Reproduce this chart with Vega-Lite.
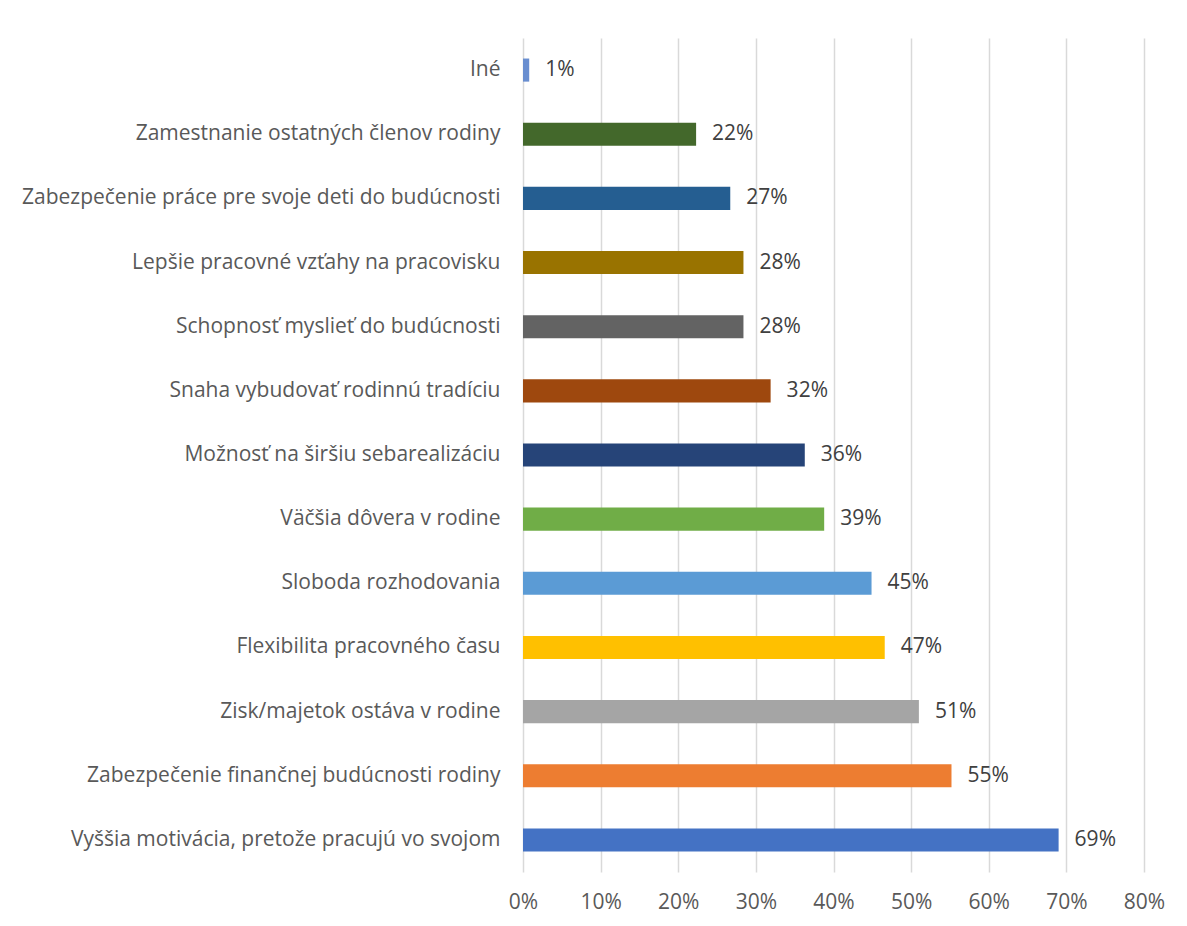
{
  "$schema": "https://vega.github.io/schema/vega-lite/v6.json",
  "width": 621,
  "height": 834,
  "autosize": {"type": "none"},
  "padding": {"left": 523, "top": 38, "right": 43, "bottom": 54},
  "background": "white",
  "config": {"view": {"stroke": null}, "font": "Open Sans"},
  "data": {
    "values": [
      {"cat": "Iné", "v": 0.008, "c": "#698ED0"},
      {"cat": "Zamestnanie ostatných členov rodiny", "v": 0.223, "c": "#43682B"},
      {"cat": "Zabezpečenie práce pre svoje deti do budúcnosti", "v": 0.267, "c": "#255E91"},
      {"cat": "Lepšie pracovné vzťahy na pracovisku", "v": 0.284, "c": "#997300"},
      {"cat": "Schopnosť myslieť do budúcnosti", "v": 0.284, "c": "#636363"},
      {"cat": "Snaha vybudovať rodinnú tradíciu", "v": 0.319, "c": "#9E480E"},
      {"cat": "Možnosť na širšiu sebarealizáciu", "v": 0.363, "c": "#264478"},
      {"cat": "Väčšia dôvera v rodine", "v": 0.388, "c": "#70AD47"},
      {"cat": "Sloboda rozhodovania", "v": 0.449, "c": "#5B9BD5"},
      {"cat": "Flexibilita pracovného času", "v": 0.466, "c": "#FFC000"},
      {"cat": "Zisk/majetok ostáva v rodine", "v": 0.51, "c": "#A5A5A5"},
      {"cat": "Zabezpečenie finančnej budúcnosti rodiny", "v": 0.552, "c": "#ED7D31"},
      {"cat": "Vyššia motivácia, pretože pracujú vo svojom", "v": 0.69, "c": "#4472C4"}
    ]
  },
  "encoding": {
    "y": {
      "field": "cat", "type": "nominal", "sort": null,
      "scale": {"paddingInner": 0.64, "paddingOuter": 0.32},
      "axis": {"title": null, "ticks": false, "domain": false, "labelPadding": 23, "labelFontSize": 21, "labelColor": "#595959", "labelLimit": 600}
    }
  },
  "layer": [
    {
      "mark": {"type": "bar"},
      "encoding": {
        "x": {
          "field": "v", "type": "quantitative",
          "scale": {"domain": [0, 0.8], "nice": false},
          "axis": {"title": null, "format": ".0%", "values": [0,0.1,0.2,0.3,0.4,0.5,0.6,0.7,0.8], "domain": false, "ticks": false, "grid": true, "gridColor": "#D9D9D9", "gridWidth": 1.5, "labelFlush": false, "labelPadding": 19, "labelFontSize": 21, "labelColor": "#595959"}
        },
        "color": {"field": "c", "type": "nominal", "scale": null, "legend": null}
      }
    },
    {
      "mark": {"type": "text", "align": "left", "baseline": "middle", "dx": 16, "fontSize": 21, "color": "#404040"},
      "encoding": {
        "x": {"field": "v", "type": "quantitative"},
        "text": {"field": "v", "type": "quantitative", "format": ".0%"}
      }
    }
  ]
}
